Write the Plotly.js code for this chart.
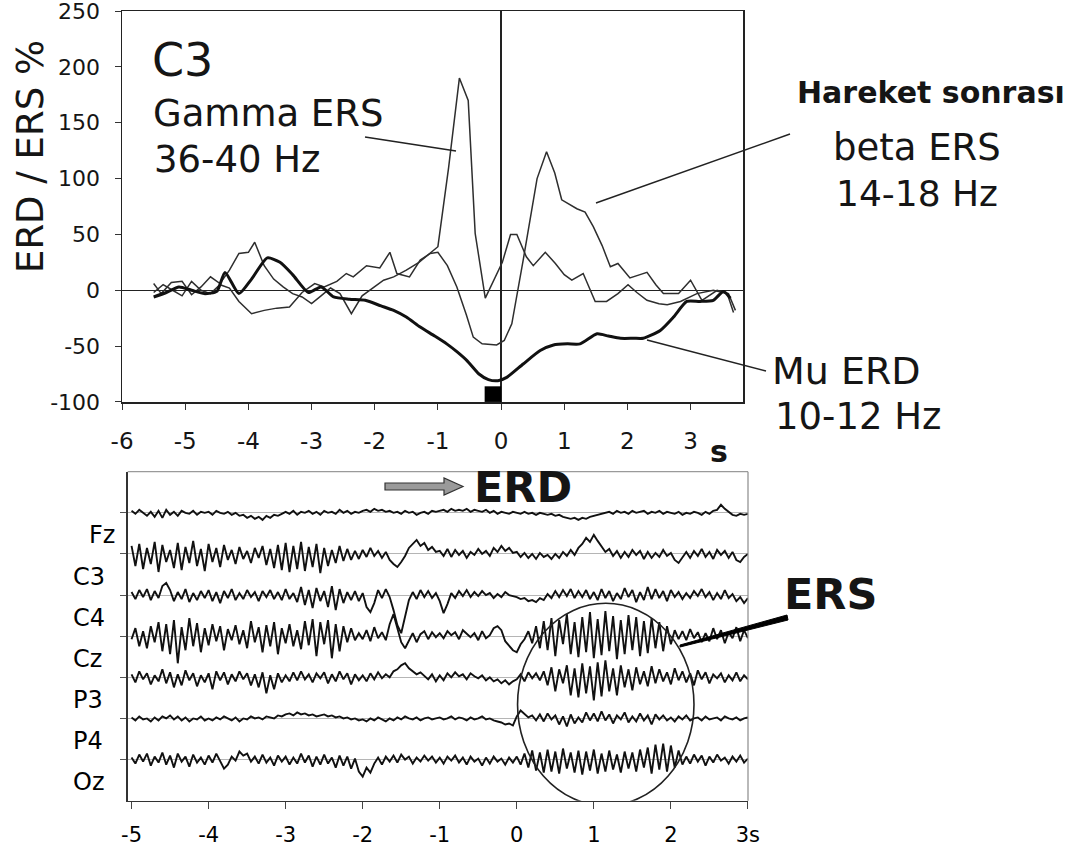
<!DOCTYPE html>
<html>
<head>
<meta charset="utf-8">
<script src="https://cdn.plot.ly/plotly-3.0.1.min.js"></script>
<style>html,body{margin:0;padding:0;background:#fff;}#chart{width:1077px;height:854px;}</style>
</head>
<body>
<div id="chart"></div>
<script>
// ---------- Top panel: ERD/ERS time courses at C3 (% change) ----------
const muX = [-5.5,-5.3,-5.1,-4.9,-4.7,-4.5,-4.37,-4.15,-3.95,-3.7,-3.5,-3.3,-3.05,-2.85,-2.65,-2.4,-2.15,-1.9,-1.7,-1.5,-1.28,-1.05,-0.86,-0.7,-0.54,-0.35,-0.2,-0.05,0.09,0.35,0.62,0.83,1.05,1.25,1.52,1.7,1.89,2.1,2.25,2.52,2.73,2.94,3.15,3.36,3.52,3.63];
const muY = [-6,-2,3,0,-3,-1,16,-3,10,29,25,14,-2,3,-6,-8,-9,-14,-18,-24,-33,-41,-48,-55,-63,-75,-80,-81,-78,-66,-54,-49,-48,-48,-39,-41,-43,-43,-43,-36,-24,-10,-10,-9,-1,-7];

const gammaX = [-5.5,-5.38,-5.22,-5.05,-4.9,-4.75,-4.6,-4.45,-4.3,-4.15,-4.0,-3.9,-3.75,-3.6,-3.45,-3.3,-3.15,-3.0,-2.85,-2.7,-2.55,-2.37,-2.2,-2.05,-1.86,-1.7,-1.5,-1.3,-1.15,-1.0,-0.83,-0.66,-0.52,-0.41,-0.25,-0.1,0.02,0.15,0.25,0.4,0.51,0.7,0.86,1.0,1.12,1.3,1.49,1.67,1.85,2.01,2.15,2.31,2.5,2.63,2.84,3.1,3.36,3.58,3.68];
const gammaY = [6,-3,7,8,-4,3,12,6,18,33,34,43,22,10,3,-3,-6,-12,-5,2,-3,-21,-5,1,9,12,18,25,32,39,110,190,170,51,-7,10,25,50,50,30,22,34,24,14,9,15,-10,-10,-3,5,-2,-9,-12,-13,-10,-3,0,-3,-20];

const betaX = [-5.5,-5.35,-5.2,-5.05,-4.9,-4.75,-4.6,-4.45,-4.3,-4.15,-3.95,-3.75,-3.55,-3.35,-3.15,-2.95,-2.8,-2.6,-2.45,-2.34,-2.13,-1.92,-1.76,-1.65,-1.45,-1.28,-1.12,-1.0,-0.85,-0.7,-0.55,-0.44,-0.3,-0.07,0.05,0.17,0.35,0.57,0.72,0.85,0.96,1.1,1.2,1.33,1.46,1.6,1.73,1.85,2.04,2.2,2.31,2.45,2.57,2.81,3.0,3.18,3.42,3.6,3.71];
const betaY = [-2,5,0,-5,8,0,-3,5,2,-10,-21,-18,-16,-15,-2,6,3,8,15,12,22,20,34,15,12,27,33,34,22,3,-22,-42,-48,-49,-45,-30,27,100,124,105,81,76,73,70,57,40,21,24,11,14,16,5,-3,-3,9,-9,0,-3,-18];

const topXTicks = [-6,-5,-4,-3,-2,-1,0,1,2,3];
const topYTicks = [-100,-50,0,50,100,150,200,250];

// ---------- Bottom panel: raw EEG, one sample every 0.05 s from -5 s ----------
const eegStart = -5, eegStep = 0.05;
const channelNames = ['Fz','C3','C4','Cz','P3','P4','Oz'];
const eegFz = [2,-1,3,0,-3,1,-4,2,-5,3,-2,1,-3,2,0,-1,2,-2,1,0,
  1,-2,2,0,-1,1,-2,0,-3,-2,-5,-3,-6,-4,-7,-3,-5,-2,-3,-1,
  1,-1,2,-2,1,0,2,-1,1,-2,2,0,1,-1,3,0,2,-1,1,0,
  2,3,1,4,2,3,1,2,0,1,-1,2,0,1,-2,0,1,-1,2,1,
  2,3,1,4,2,3,2,4,1,3,2,1,3,0,2,-1,1,0,-1,1,
  0,-1,1,-1,0,-2,0,-1,-2,-1,-3,-2,-4,-5,-6,-5,-7,-5,-6,-4,
  -3,-2,-1,0,1,-1,2,0,1,-1,2,0,1,2,-1,1,0,2,-1,1,
  0,-1,1,-2,0,-1,1,0,-2,1,-1,2,3,8,4,1,-2,-3,-1,-2,
  -1];
const eegC3 = [8,-12,10,-15,6,-10,12,-18,9,-8,4,-14,11,-16,7,-9,13,-12,5,-17,
  10,-8,6,-13,9,-6,4,-10,7,-5,3,-9,6,-4,8,-11,5,-14,9,-16,
  11,-18,8,-15,12,-17,7,-13,10,-19,6,-12,4,-9,8,-7,5,-6,3,-5,
  4,-3,6,-2,3,-4,2,-6,-10,-13,-8,-2,6,10,14,8,11,4,7,2,
  3,-2,5,-3,4,-1,3,-4,2,-1,5,0,3,-2,6,2,8,3,6,1,
  2,-3,1,-4,0,-5,1,-3,-1,-5,0,-4,2,-2,4,-1,6,10,16,12,
  19,13,8,2,5,-2,3,-4,2,-3,4,-1,3,-5,2,-4,1,-3,4,-2,
  1,-6,-9,-3,2,-4,3,-2,5,-3,2,-5,4,-1,3,-4,2,-6,-8,-3,
  0];
const eegC4 = [3,-4,5,-2,6,-5,4,-3,9,12,5,-6,3,-4,6,-7,2,-5,4,-3,
  5,-6,3,-8,4,-3,6,-5,2,-4,5,-2,3,-6,4,-2,5,-4,3,-5,
  6,-4,2,-7,8,-10,5,-13,7,-6,4,-12,9,-15,6,-8,3,-5,4,-6,
  2,-12,-17,-8,5,-3,6,-2,-15,-30,-38,-20,-5,3,-4,5,-2,4,-3,2,
  -6,-18,-9,2,-3,4,-1,5,-2,3,-1,4,0,2,-3,1,-2,3,0,-1,
  -2,-4,-3,-6,-5,-7,-3,-5,1,-3,4,-2,5,-1,6,-3,4,-2,5,-4,
  3,-5,6,-3,4,-6,2,-4,7,-2,5,-7,3,-5,8,-4,6,-3,4,-6,
  5,-2,3,-4,2,-3,4,-1,6,-2,3,-5,2,-4,5,-3,1,-6,-2,-8,
  -3];
const eegCz = [-3,8,-10,5,-12,10,-6,14,-15,12,-18,16,-27,9,-14,18,-10,13,-16,8,
  -9,12,-5,10,-14,7,-4,11,-8,6,-12,15,-6,9,-16,11,-10,14,-18,8,
  -7,12,-10,6,-13,15,-9,17,-20,14,-8,16,-22,12,-15,10,-6,8,-4,3,
  -3,6,-5,9,-2,4,-4,12,22,8,-6,-12,-4,3,-6,2,5,-3,4,-1,
  3,-2,5,1,4,-3,6,2,-1,3,-4,5,-2,1,8,10,6,-5,-10,-14,
  -16,-8,-3,5,-7,10,-12,15,-14,18,-20,16,-8,22,-18,14,-21,19,-16,24,
  -22,17,-19,25,-15,20,-23,16,-18,21,-14,19,-20,15,-17,18,-12,14,-15,10,
  -8,6,-3,5,-4,7,-2,4,-6,3,-5,8,-3,6,-7,4,-2,9,-5,6,
  -2];
const eegP3 = [3,-5,6,-2,4,-7,2,-4,8,-6,5,-10,3,-8,7,-3,4,-9,2,-5,
  4,-12,6,-3,5,-7,3,-4,6,-2,4,-8,3,-10,5,-16,2,-12,4,-5,
  2,-4,5,-3,6,-2,3,-5,4,-1,5,-6,3,-4,6,-2,4,-7,3,-3,
  2,-4,4,-2,5,-1,3,0,6,8,12,14,9,6,3,5,1,-2,3,-4,
  2,-3,4,0,5,1,3,-2,4,1,-1,2,-3,0,-4,-2,-6,-3,-7,-4,
  -2,3,-4,5,-1,4,-3,6,-8,10,-14,8,-6,12,-18,9,-20,14,-16,11,
  -23,15,-19,17,-14,9,-18,12,-10,8,-13,10,-7,6,-9,11,-6,8,-4,5,
  -7,9,-3,6,-5,4,-8,7,-2,5,-6,3,-1,4,-5,2,-3,5,-4,2,
  -2];
const eegP4 = [1,-2,2,-1,0,-3,1,-2,2,0,3,-1,2,-2,1,-3,0,-1,2,-2,
  0,-2,1,-1,2,0,-2,1,-3,0,-1,2,0,1,-1,2,1,0,3,2,
  4,5,3,6,4,5,3,4,2,3,4,2,3,1,2,0,1,-1,0,-2,
  -1,-3,0,-2,1,-1,-3,0,-2,1,-1,2,0,-1,1,-2,0,1,-1,0,
  1,-1,0,2,-1,1,0,-2,1,-1,0,2,-1,0,-2,-3,-4,-6,-5,-7,
  2,8,4,1,3,-2,4,-3,5,-1,3,-6,2,-8,4,-5,1,-4,6,-2,
  5,-3,7,-2,4,-5,3,-1,6,-4,2,-3,5,-2,3,-6,4,-1,3,-2,
  1,-3,2,-1,3,-2,0,1,-2,2,-1,0,1,-2,2,0,-1,1,-2,0,
  1];
const eegOz = [2,-4,5,-2,6,-6,3,-3,7,-5,4,-8,6,-2,3,-7,5,-3,2,-5,
  4,-3,6,-2,-9,-5,3,-1,8,4,6,-2,3,-4,5,-3,2,-6,4,-2,
  3,-5,2,-4,6,-3,4,-7,3,-5,5,-4,2,-8,4,-6,3,-9,1,-12,
  -17,-8,-13,-4,2,-5,3,-2,4,-3,5,0,3,-4,2,-2,4,-1,3,-3,
  2,-4,3,-1,4,-3,2,-5,3,-2,1,-6,2,-4,3,-2,1,-5,2,-3,
  3,-5,6,-8,9,-11,7,-13,10,-12,8,-14,11,-9,7,-13,9,-15,8,-11,
  10,-14,6,-12,9,-10,5,-13,8,-9,7,-12,10,-8,12,-14,15,-10,16,-12,
  14,-8,9,-5,3,-4,5,-2,4,-6,3,-3,5,-1,2,-4,3,-2,4,-3,
  1];
const eegChannels = [eegFz, eegC3, eegC4, eegCz, eegP3, eegP4, eegOz];
const bottomXTicks = [-5,-4,-3,-2,-1,0,1,2,3];
const bottomXLabels = ['-5','-4','-3','-2','-1','0','1','2','3s'];

// ---------- drawing ----------
const W = 1077, H = 854;
const px = v => v / W;            // pixel -> paper helpers for layout placement
const py = v => 1 - v / H;
const FONT = 'DejaVu Sans, Liberation Sans, Arial, sans-serif';
const INK = '#151515';

const traces = [
  {x: gammaX, y: gammaY, mode: 'lines', xaxis: 'x', yaxis: 'y', line: {color: '#2e2e2e', width: 1.5}, hoverinfo: 'skip'},
  {x: betaX, y: betaY, mode: 'lines', xaxis: 'x', yaxis: 'y', line: {color: '#2e2e2e', width: 1.5}, hoverinfo: 'skip'},
  {x: muX, y: muY, mode: 'lines', xaxis: 'x', yaxis: 'y', line: {color: '#111', width: 3, shape: 'spline', smoothing: 0.6}, hoverinfo: 'skip'}
];

const eegGain = 1 / 41;   // display gain: amplitude units per channel spacing
const nCh = eegChannels.length;
eegChannels.forEach((sig, c) => {
  const base = nCh - c;   // Fz on top (7) ... Oz at bottom (1)
  traces.push({
    x: sig.map((_, i) => eegStart + i * eegStep),
    y: sig.map(v => base + v * eegGain),
    mode: 'lines', xaxis: 'x2', yaxis: 'y2',
    line: {color: '#111', width: 1.9}, hoverinfo: 'skip'
  });
});

const ann = [];
function txt(text, x, y, size, opts) {
  ann.push(Object.assign({text: text, x: px(x), y: py(y), xref: 'paper', yref: 'paper',
    showarrow: false, xanchor: 'center', yanchor: 'middle',
    font: {family: FONT, size: size, color: INK}}, opts || {}));
}
txt('C3', 182, 60, 46);
txt('Gamma ERS', 151, 113, 37, {xanchor: 'left'});
txt('36-40 Hz', 152, 159, 37, {xanchor: 'left'});
txt('<b>Hareket sonrası</b>', 931, 92, 30);
txt('beta ERS', 917, 148, 37);
txt('14-18 Hz', 917, 193, 36);
txt('Mu ERD', 770, 371, 38, {xanchor: 'left'});
txt('10-12 Hz', 773, 416, 37, {xanchor: 'left'});
txt('ERD / ERS %', 31, 157, 37, {textangle: -90});
txt('<b>s</b>', 719, 451, 30);
txt('<b>ERD</b>', 523, 487, 43);
txt('<b>ERS</b>', 830, 594, 43);

// channel labels next to the bottom traces
const labelLeft = [87, 71, 71, 71, 71, 71, 71];
channelNames.forEach((name, c) => {
  ann.push({text: name, x: px(labelLeft[c]), xref: 'paper', y: (nCh - c) - 0.55, yref: 'y2',
    xanchor: 'left', yanchor: 'middle', showarrow: false,
    font: {family: FONT, size: 24, color: '#000'}});
});

const shapes = [
  // movement marker square
  {type: 'rect', xref: 'x', yref: 'y', x0: -0.26, x1: 0.0, y0: -100, y1: -86, fillcolor: '#000', line: {width: 0}},
  // leader lines
  {type: 'line', xref: 'paper', yref: 'paper', x0: px(365), y0: py(137), x1: px(456), y1: py(151), line: {color: '#222', width: 1.4}},
  {type: 'line', xref: 'paper', yref: 'paper', x0: px(596), y0: py(203), x1: px(790), y1: py(134), line: {color: '#222', width: 1.4}},
  {type: 'line', xref: 'paper', yref: 'paper', x0: px(647), y0: py(340), x1: px(766), y1: py(371), line: {color: '#222', width: 1.4}},
  // bottom panel top/right frame (light)
  {type: 'line', xref: 'x2 domain', yref: 'y2 domain', x0: 0, x1: 1, y0: 1, y1: 1, line: {color: '#9a9a9a', width: 1.2}},
  {type: 'line', xref: 'x2 domain', yref: 'y2 domain', x0: 1, x1: 1, y0: 0, y1: 1, line: {color: '#8a8a8a', width: 1.2}},
  // ERS circle
  {type: 'circle', xref: 'x2', yref: 'y2', x0: 0.01, x1: 2.3, y0: -0.12, y1: 4.8, line: {color: '#222', width: 1.6}},
  // ERD arrow
  {type: 'path', xref: 'paper', yref: 'paper',
   path: `M ${px(385)} ${py(483)} L ${px(444)} ${py(483)} L ${px(444)} ${py(478)} L ${px(463)} ${py(486.5)} L ${px(444)} ${py(495)} L ${px(444)} ${py(490)} L ${px(385)} ${py(490)} Z`,
   fillcolor: '#9a9a9a', line: {color: '#333', width: 1.2}},
  // ERS pointer wedge
  {type: 'path', xref: 'paper', yref: 'paper',
   path: `M ${px(680)} ${py(645)} L ${px(787)} ${py(615)} L ${px(788)} ${py(620)} L ${px(680)} ${py(647)} Z`,
   fillcolor: '#000', line: {color: '#000', width: 1}}
];

const axTop = {showgrid: false, showline: true, linecolor: '#222', linewidth: 1.5, mirror: true,
  ticks: 'outside', ticklen: 6, tickcolor: '#333', tickwidth: 1,
  zeroline: true, zerolinecolor: '#222', zerolinewidth: 1.3, ticklabeloverflow: 'allow',
  tickfont: {family: FONT, size: 22, color: INK}};

const layout = {
  width: W, height: H, margin: {l: 0, r: 0, t: 0, b: 0},
  paper_bgcolor: '#fff', plot_bgcolor: '#fff', showlegend: false,
  xaxis: Object.assign({}, axTop, {domain: [px(122), px(743)], range: [-6.001, 3.83], anchor: 'y',
    tickmode: 'array', tickvals: topXTicks, ticktext: topXTicks.map(String), ticklabelstandoff: 12,
    tickfont: {family: FONT, size: 23, color: INK}}),
  yaxis: Object.assign({}, axTop, {domain: [py(402), py(11)], range: [-100.05, 250.05], anchor: 'x',
    tickmode: 'array', tickvals: topYTicks, ticktext: topYTicks.map(String), ticklabelstandoff: 10}),
  xaxis2: {domain: [px(127.7), px(748)], range: [-5.05, 3.001], anchor: 'y2',
    tickmode: 'array', tickvals: bottomXTicks, ticktext: bottomXLabels, ticklabeloverflow: 'allow',
    showgrid: false, zeroline: false, showline: true, linecolor: '#333', linewidth: 1.5,
    ticks: 'outside', ticklen: 7, tickcolor: '#444', ticklabelstandoff: 8,
    tickfont: {family: FONT, size: 21, color: '#000'}},
  yaxis2: {domain: [py(800.7), py(471.7)], range: [0, 8], anchor: 'x2',
    tickmode: 'array', tickvals: [1,2,3,4,5,6,7], showticklabels: false,
    showgrid: true, gridcolor: '#b5b5b5', gridwidth: 1, zeroline: false,
    showline: true, linecolor: '#333', linewidth: 1.5, ticks: 'outside', ticklen: 6, tickcolor: '#555'},
  annotations: ann,
  shapes: shapes
};

Plotly.newPlot('chart', traces, layout, {staticPlot: true, displayModeBar: false});
</script>
</body>
</html>
